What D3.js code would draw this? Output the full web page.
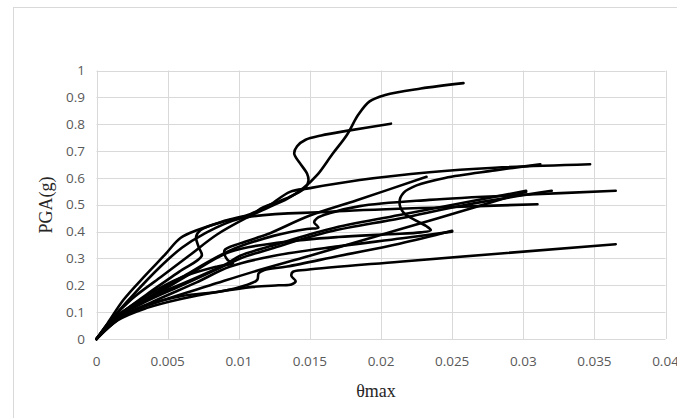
<!DOCTYPE html>
<html>
<head>
<meta charset="utf-8">
<script src="https://cdn.jsdelivr.net/npm/d3@7"></script>
<style>
  body { margin: 0; background: #fff; }
  svg { display: block; }
</style>
</head>
<body>
<svg id="chart"></svg>
<script>
const width = 677;
const height = 418;

// axis ticks
const xTicks = [0, 0.005, 0.01, 0.015, 0.02, 0.025, 0.03, 0.035, 0.04];
const xTickLabels = ["0", "0.005", "0.01", "0.015", "0.02", "0.025", "0.03", "0.035", "0.04"];
const yTicks = [0, 0.1, 0.2, 0.3, 0.4, 0.5, 0.6, 0.7, 0.8, 0.9, 1];
const yTickLabels = ["0", "0.1", "0.2", "0.3", "0.4", "0.5", "0.6", "0.7", "0.8", "0.9", "1"];

// IDA curves, [θmax, PGA(g)]
const run01 = [[0, 0], [0.001, 0.07], [0.0025, 0.15], [0.0045, 0.23], [0.0065, 0.31], [0.0085, 0.39], [0.0105, 0.45], [0.012, 0.488], [0.0134, 0.522], [0.0145, 0.56], [0.0155, 0.61], [0.0166, 0.69], [0.0176, 0.76], [0.0184, 0.835], [0.0192, 0.885], [0.0203, 0.909], [0.0228, 0.933], [0.0258, 0.953]];
const run02 = [[0, 0], [0.0008, 0.06], [0.0019, 0.146], [0.0034, 0.235], [0.0048, 0.313], [0.0059, 0.376], [0.0071, 0.406], [0.0089, 0.437], [0.0108, 0.462], [0.0117, 0.49], [0.0127, 0.51], [0.0138, 0.535], [0.0147, 0.565], [0.0149, 0.59], [0.0148, 0.616], [0.0143, 0.655], [0.0139, 0.69], [0.0141, 0.718], [0.0147, 0.742], [0.0158, 0.758], [0.0178, 0.777], [0.0207, 0.802]];
const run03 = [[0, 0], [0.0015, 0.085], [0.0035, 0.165], [0.0058, 0.25], [0.0074, 0.31], [0.0072, 0.34], [0.007, 0.38], [0.0073, 0.405], [0.009, 0.44], [0.0108, 0.465], [0.0122, 0.5], [0.0136, 0.548], [0.015, 0.562], [0.0185, 0.592], [0.0234, 0.621], [0.028, 0.638], [0.0347, 0.651]];
const run04 = [[0, 0], [0.0015, 0.08], [0.004, 0.16], [0.0065, 0.24], [0.0094, 0.325], [0.013, 0.36], [0.017, 0.38], [0.0205, 0.39], [0.0228, 0.397], [0.0235, 0.405], [0.0232, 0.42], [0.0225, 0.44], [0.0216, 0.47], [0.0213, 0.51], [0.0216, 0.545], [0.0225, 0.572], [0.0245, 0.6], [0.028, 0.628], [0.0312, 0.651]];
const run05 = [[0, 0], [0.0015, 0.08], [0.0035, 0.15], [0.006, 0.23], [0.0094, 0.33], [0.0125, 0.385], [0.0148, 0.41], [0.0156, 0.415], [0.0153, 0.435], [0.0155, 0.45], [0.0165, 0.47], [0.0185, 0.495], [0.0234, 0.518], [0.03, 0.537], [0.0365, 0.552]];
const run06 = [[0, 0], [0.0015, 0.08], [0.0035, 0.14], [0.006, 0.2], [0.0085, 0.26], [0.0101, 0.3], [0.0125, 0.34], [0.0164, 0.4], [0.0213, 0.449], [0.026, 0.5], [0.032, 0.552]];
const run07 = [[0, 0], [0.0015, 0.09], [0.0035, 0.15], [0.0062, 0.21], [0.0092, 0.282], [0.0101, 0.31], [0.0125, 0.35], [0.0164, 0.41], [0.0213, 0.462], [0.0302, 0.552]];
const run08 = [[0, 0], [0.001, 0.07], [0.0025, 0.16], [0.0045, 0.27], [0.006, 0.34], [0.0075, 0.39], [0.0101, 0.449], [0.0164, 0.474], [0.024, 0.49], [0.031, 0.502]];
const run09 = [[0, 0], [0.0015, 0.075], [0.0035, 0.125], [0.006, 0.16], [0.0087, 0.177], [0.0105, 0.2], [0.0113, 0.22], [0.0114, 0.245], [0.0118, 0.257], [0.0134, 0.27], [0.0171, 0.31], [0.0213, 0.355], [0.025, 0.403]];
const run10 = [[0, 0], [0.0015, 0.07], [0.0035, 0.115], [0.006, 0.15], [0.0085, 0.175], [0.011, 0.194], [0.0128, 0.2], [0.0137, 0.203], [0.014, 0.215], [0.0137, 0.235], [0.0138, 0.25], [0.0148, 0.258], [0.0213, 0.288], [0.0365, 0.353]];
const run11 = [[0, 0], [0.0015, 0.085], [0.0035, 0.16], [0.006, 0.23], [0.0085, 0.27], [0.0096, 0.282], [0.0092, 0.295], [0.009, 0.33], [0.0101, 0.356], [0.012, 0.39], [0.015, 0.46], [0.0183, 0.517], [0.0232, 0.604]];
const run12 = [[0, 0], [0.002, 0.09], [0.005, 0.15], [0.008, 0.2], [0.011, 0.25], [0.015, 0.31], [0.0195, 0.38], [0.024, 0.45], [0.0302, 0.548]];
const run13 = [[0, 0], [0.0015, 0.075], [0.004, 0.14], [0.007, 0.21], [0.0094, 0.27], [0.0125, 0.31], [0.017, 0.345], [0.0215, 0.375], [0.025, 0.4]];

const runs = [run01, run02, run03, run04, run05, run06, run07, run08, run09, run10, run11, run12, run13];

const svg = d3.select("#chart")
  .attr("width", width)
  .attr("height", height);

svg.append("rect")
  .attr("width", width)
  .attr("height", height)
  .attr("fill", "#fff");

// chart area border (right and bottom edges fall outside the picture)
svg.append("rect")
  .attr("x", 13.5)
  .attr("y", 7.5)
  .attr("width", 700)
  .attr("height", 430)
  .attr("fill", "none")
  .attr("stroke", "#d9d9d9");

const x = d3.scaleLinear().domain([0, 0.04]).range([96.5, 665.5]);
const y = d3.scaleLinear().domain([0, 1]).range([339, 70.5]);

const grid = svg.append("g").attr("stroke", "#d9d9d9").attr("stroke-width", 1);
grid.selectAll("line.h")
  .data(yTicks)
  .join("line")
  .attr("class", "h")
  .attr("x1", x(0)).attr("x2", x(0.04))
  .attr("y1", d => Math.round(y(d)) + 0.5)
  .attr("y2", d => Math.round(y(d)) + 0.5);
grid.selectAll("line.v")
  .data(xTicks)
  .join("line")
  .attr("class", "v")
  .attr("y1", y(0)).attr("y2", y(1))
  .attr("x1", d => Math.round(x(d)) + 0.5)
  .attr("x2", d => Math.round(x(d)) + 0.5);

// tick labels
svg.append("g")
  .attr("font-family", "'Open Sans', sans-serif")
  .attr("font-size", 13.5)
  .attr("fill", "#595959")
  .attr("text-anchor", "end")
  .selectAll("text")
  .data(yTicks)
  .join("text")
  .attr("x", 85)
  .attr("y", d => y(d))
  .attr("dy", "0.35em")
  .text((d, i) => yTickLabels[i]);

svg.append("g")
  .attr("font-family", "'Open Sans', sans-serif")
  .attr("font-size", 13.5)
  .attr("fill", "#595959")
  .attr("text-anchor", "middle")
  .selectAll("text")
  .data(xTicks)
  .join("text")
  .attr("x", d => x(d))
  .attr("y", 366)
  .text((d, i) => xTickLabels[i]);

// curves
const line = d3.line()
  .x(d => x(d[0]))
  .y(d => y(d[1]))
  .curve(d3.curveCatmullRom.alpha(0.5));

svg.append("g")
  .attr("fill", "none")
  .attr("stroke", "#000")
  .attr("stroke-width", 2.6)
  .attr("stroke-linejoin", "round")
  .attr("stroke-linecap", "round")
  .selectAll("path")
  .data(runs)
  .join("path")
  .attr("d", line);

// axis titles
svg.append("text")
  .attr("x", 376)
  .attr("y", 397)
  .attr("text-anchor", "middle")
  .attr("font-family", "'Liberation Serif', serif")
  .attr("font-size", 18)
  .attr("fill", "#262626")
  .text("θmax");

svg.append("text")
  .attr("transform", "translate(52,205) rotate(-90)")
  .attr("text-anchor", "middle")
  .attr("font-family", "'Liberation Serif', serif")
  .attr("font-size", 18)
  .attr("fill", "#262626")
  .text("PGA(g)");
</script>
</body>
</html>
